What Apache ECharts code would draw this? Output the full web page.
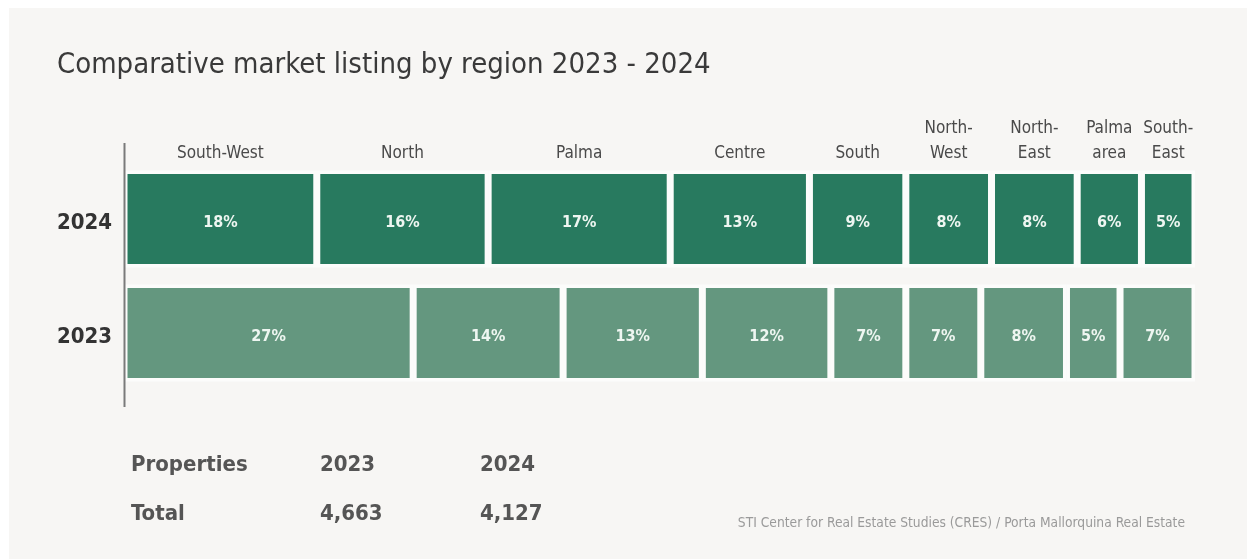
<!DOCTYPE html>
<html>
<head>
<meta charset="utf-8">
<script src="https://cdn.jsdelivr.net/npm/echarts@6/dist/echarts.min.js"></script>
<style>
  html, body { margin: 0; padding: 0; background: #ffffff; }
  #panel { position: absolute; left: 9px; top: 8px; width: 1238px; height: 551px; background: #f7f6f4; }
  #chart { position: absolute; left: 0; top: 0; width: 1247px; height: 559px; }
</style>
</head>
<body>
<div id="panel"></div>
<div id="chart"></div>
<script>
// Share of listings by region, per year (percent)
const years = ['2023', '2024'];
const regions = ['South-West', 'North', 'Palma', 'Centre', 'South', 'North-\nWest', 'North-\nEast', 'Palma\narea', 'South-\nEast'];
const share2023 = [27, 14, 13, 12, 7, 7, 8, 5, 7];
const share2024 = [18, 16, 17, 13, 9, 8, 8, 6, 5];
// Total properties listed
const totalYears = ['2023', '2024'];
const totals = [4663, 4127];

const FONT = '"DejaVu Sans Condensed", "Noto Sans", sans-serif';
const color2023 = '#64977f';
const color2024 = '#287a5f';
const BAR = 97;

const chart = echarts.init(document.getElementById('chart'), null, { renderer: 'canvas' });

const series = [];
regions.forEach((name, i) => {
  series.push({
    name: name,
    type: 'bar',
    stack: 'share',
    barWidth: BAR,
    data: [
      { value: share2023[i], itemStyle: { color: color2023 } },
      { value: share2024[i], itemStyle: { color: color2024 } }
    ],
    itemStyle: { borderColor: '#fcfcfb', borderWidth: 3.5 },
    label: {
      show: true,
      position: 'inside',
      offset: [0, 4],
      formatter: p => p.value + '%',
      fontFamily: FONT,
      fontSize: 16,
      fontWeight: 'bold',
      color: '#eef6f1'
    },
    emphasis: { disabled: true }
  });
});
// Region names sit above the 2024 segments
regions.forEach((name, i) => {
  series.push({
    name: name + ' label',
    type: 'bar',
    stack: 'names',
    barWidth: BAR,
    barGap: '-100%',
    data: ['-', share2024[i]],
    itemStyle: { color: 'rgba(0,0,0,0)' },
    label: {
      show: true,
      position: 'top',
      distance: 4,
      formatter: () => name,
      fontFamily: FONT,
      fontSize: 17,
      lineHeight: 25,
      color: '#4a4a4a',
      align: 'center'
    },
    silent: true,
    z: 3
  });
});

const fmt = n => n.toLocaleString('en-US');
const tableFont = 'bold 22px ' + FONT;

chart.setOption({
  animation: false,
  grid: { left: 124, right: 52, top: 162, bottom: 169 },
  xAxis: {
    type: 'value', min: 0, max: 100, show: false
  },
  yAxis: {
    type: 'category',
    data: years,
    axisLine: { show: false },
    axisTick: { show: false },
    axisLabel: {
      margin: 12,
      fontFamily: FONT,
      fontSize: 22,
      fontWeight: 'bold',
      color: '#333333',
      verticalAlign: 'top',
      lineHeight: 8
    }
  },
  series: series,
  graphic: [
    {
      type: 'text', left: 57, top: 51,
      style: { text: 'Comparative market listing by region 2023 - 2024', font: '29px ' + FONT, fill: '#3a3a3a' }
    },
    {
      type: 'line', z: 100, shape: { x1: 124.5, y1: 143, x2: 124.5, y2: 407 },
      style: { stroke: '#7a7a7a', lineWidth: 2 }
    },
    {
      type: 'text', left: 131, top: 454,
      style: { text: 'Properties', font: tableFont, fill: '#555555' }
    },
    {
      type: 'text', left: 320, top: 454,
      style: { text: totalYears[0], font: tableFont, fill: '#555555' }
    },
    {
      type: 'text', left: 480, top: 454,
      style: { text: totalYears[1], font: tableFont, fill: '#555555' }
    },
    {
      type: 'text', left: 131, top: 503,
      style: { text: 'Total', font: tableFont, fill: '#555555' }
    },
    {
      type: 'text', left: 320, top: 503,
      style: { text: fmt(totals[0]), font: tableFont, fill: '#555555' }
    },
    {
      type: 'text', left: 480, top: 503,
      style: { text: fmt(totals[1]), font: tableFont, fill: '#555555' }
    },
    {
      type: 'text', right: 62, top: 516,
      style: { text: 'STI Center for Real Estate Studies (CRES) / Porta Mallorquina Real Estate', font: '13.7px ' + FONT, fill: '#9a9a9a' }
    }
  ]
});
</script>
</body>
</html>
